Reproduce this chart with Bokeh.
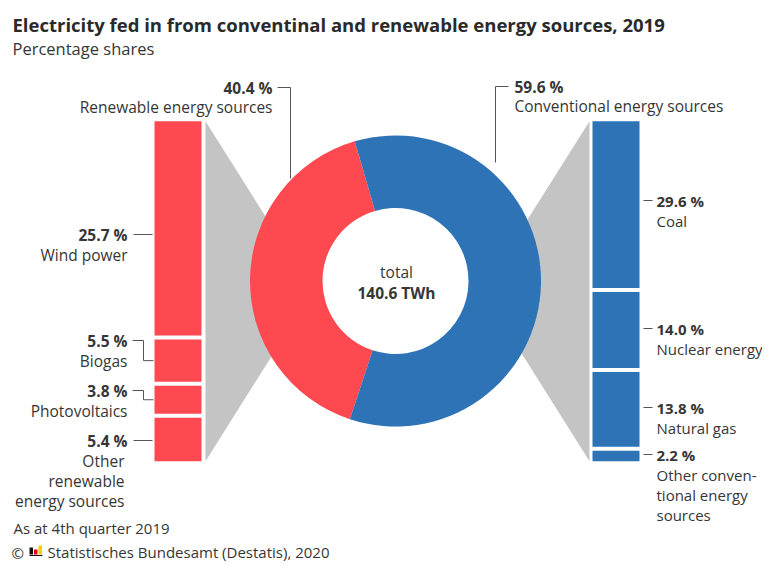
import math
from bokeh.plotting import figure
from bokeh.models import Range1d
from bokeh.core.properties import value
from bokeh.embed import file_html
from bokeh.resources import INLINE

# ---------------- data ----------------
title = "Electricity fed in from conventinal and renewable energy sources, 2019"
subtitle = "Percentage shares"
group_names = ["Renewable energy sources", "Conventional energy sources"]
group_values = [40.4, 59.6]
total_label = "140.6 TWh"

left_names = [["Wind power"], ["Biogas"], ["Photovoltaics"], ["Other", "renewable", "energy sources"]]
left_values = [25.7, 5.5, 3.8, 5.4]
right_names = [["Coal"], ["Nuclear energy"], ["Natural gas"], ["Other conven-", "tional energy", "sources"]]
right_values = [29.6, 14.0, 13.8, 2.2]

note = "As at 4th quarter 2019"
source = "Statistisches Bundesamt (Destatis), 2020"

# ---------------- layout (pixel coords, y downward) ----------------
PW, PH = 762, 563
def Y(v):
    return PH - v

RED = "#fe4951"
BLUE = "#2e73b5"
GREY = "#c4c4c4"
TXT = "#363636"
LINE = "#555555"
FONT = "Open Sans"
FS = "15.5px"

cx, cy = 395.0, 280.5
r_out, r_in = 145.5, 73.0
bar_top, bar_h = 120.7, 340.0
lbar_x0, lbar_x1 = 154.0, 201.0
rbar_x0, rbar_x1 = 592.0, 639.0

p = figure(width=PW, height=PH, x_range=Range1d(0, PW), y_range=Range1d(0, PH),
           output_backend="svg", toolbar_location=None, min_border=0,
           x_axis_type=None, y_axis_type=None)
p.grid.visible = False
p.outline_line_color = None
p.background_fill_color = "white"
p.border_fill_color = "white"

# ---- grey connectors (drawn under donut) ----
slope = 0.63
lx_end = 300.0
dy_l = (lx_end - 205.0) / slope
p.patch([205, 205, lx_end, lx_end],
        [Y(bar_top), Y(bar_top + bar_h), Y(bar_top + bar_h - dy_l), Y(bar_top + dy_l)],
        color=GREY, line_color=None)
rx_end = 490.0
dy_r = (589.0 - rx_end) / slope
p.patch([589, 589, rx_end, rx_end],
        [Y(bar_top), Y(bar_top + bar_h), Y(bar_top + bar_h - dy_r), Y(bar_top + dy_r)],
        color=GREY, line_color=None)

# ---- donut ----
red_half = group_values[0] / sum(group_values) * math.pi
red_center = math.radians(179.0)
p.annular_wedge(x=cx, y=Y(cy), inner_radius=r_in, outer_radius=r_out,
                start_angle=red_center - red_half, end_angle=red_center + red_half,
                color=RED, line_color=None)
p.annular_wedge(x=cx, y=Y(cy), inner_radius=r_in, outer_radius=r_out,
                start_angle=red_center + red_half, end_angle=red_center - red_half + 2 * math.pi,
                color=BLUE, line_color=None)

def txt(x, y, s, align="left", bold=False, size=FS, color=TXT):
    p.text(x=[x], y=[Y(y)], text=[s], text_font=value(FONT), text_font_size=size,
           text_align=align, text_baseline="middle", text_color=color,
           text_font_style="bold" if bold else "normal")

txt(cx + 1, 271.5, "total", align="center")
txt(cx + 1, 292, total_label, align="center", bold=True)

# ---- stacked bars ----
def stacked(values, x0, x1, color):
    tot = sum(values)
    centers = []
    cum = 0.0
    gap = 2.0
    for i, v in enumerate(values):
        h = v / tot * bar_h
        t = bar_top + cum
        b = t + h
        tt = t + (gap if i > 0 else 0)
        bb = b - (gap if i < len(values) - 1 else 0)
        p.quad(left=x0, right=x1, top=Y(tt), bottom=Y(bb), color=color, line_color=None)
        centers.append((t + b) / 2)
        cum += h
    return centers

lc = stacked(left_values, lbar_x0, lbar_x1, RED)
rc = stacked(right_values, rbar_x0, rbar_x1, BLUE)

# ---- left labels ----
left_label_y = [234, 340, 390, 440]
for name, v, cyy, ly in zip(left_names, left_values, lc, left_label_y):
    txt(127, ly, f"{v:.1f} %", align="right", bold=True)
    for k, line in enumerate(name):
        txt(127 if len(name) == 1 else 124, ly + 20 * (k + 1), line, align="right")
    if abs(cyy - ly) < 6:
        p.line([133, 152], [Y(ly), Y(ly)], line_color=LINE, line_width=1)
    else:
        p.line([132, 143, 143, 153], [Y(ly), Y(ly), Y(cyy), Y(cyy)], line_color=LINE, line_width=1)

# ---- right labels ----
right_label_y = [200, 328, 407, 454]
for name, v, cyy, ly in zip(right_names, right_values, rc, right_label_y):
    txt(656, ly, f"{v:.1f} %", align="left", bold=True, size="15px")
    for k, line in enumerate(name):
        txt(656, ly + 20 * (k + 1), line, align="left", size="15px")
    p.line([643, 652], [Y(ly), Y(ly)], line_color=LINE, line_width=1)

# ---- group labels ----
txt(272, 87, f"{group_values[0]:.1f} %", align="right", bold=True)
txt(272, 106, group_names[0], align="right")
p.line([277, 290, 290], [Y(87), Y(87), Y(178)], line_color=LINE, line_width=1)
txt(514, 86, f"{group_values[1]:.1f} %", align="left", bold=True)
txt(514, 105, group_names[1], align="left")
p.line([508, 495, 495], [Y(86), Y(86), Y(162)], line_color=LINE, line_width=1)

# ---- title etc ----
txt(12, 24, title, bold=True, size="18.5px", color="#2a2a2a")
txt(12, 48, subtitle, size="16.5px")
txt(13, 527, note, size="15px")
txt(11, 552, "\u00a9", size="15px")
# logo
p.quad(left=[29, 33.5, 38], right=[32.5, 37, 41.5], top=[Y(547), Y(549), Y(545)],
       bottom=[Y(554), Y(554), Y(554)], color=["#111111", "#dd0000", "#ffcc00"], line_color=None)
p.line([29, 42], [Y(555), Y(555)], line_color="#111111", line_width=1)
txt(47, 551, source, size="15px")

open("out.html", "w").write(file_html(p, INLINE))
